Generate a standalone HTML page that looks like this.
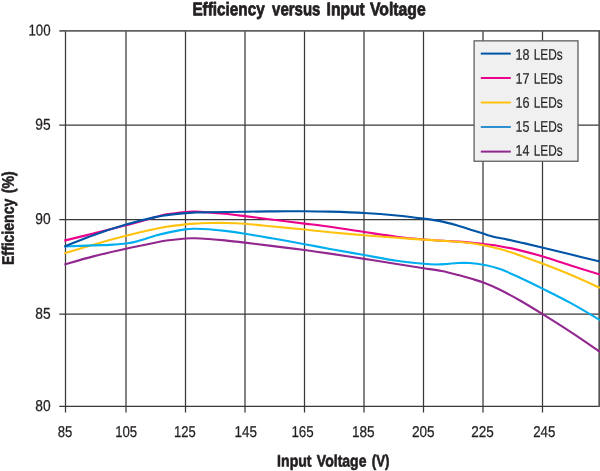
<!DOCTYPE html>
<html><head><meta charset="utf-8"><title>Efficiency versus Input Voltage</title>
<style>
html,body{margin:0;padding:0;background:#fff;}
svg{display:block;font-family:"Liberation Sans",sans-serif;}
text{text-rendering:geometricPrecision;}
</style></head>
<body>
<svg width="600" height="471" viewBox="0 0 600 471">
<rect x="0" y="0" width="600" height="471" fill="#ffffff"/>
<line x1="65.50" y1="30.9" x2="65.50" y2="412.60" stroke="#383838" stroke-width="1.25"/>
<line x1="126.00" y1="30.9" x2="126.00" y2="412.60" stroke="#383838" stroke-width="1.25"/>
<line x1="185.50" y1="30.9" x2="185.50" y2="412.60" stroke="#383838" stroke-width="1.25"/>
<line x1="245.00" y1="30.9" x2="245.00" y2="412.60" stroke="#383838" stroke-width="1.25"/>
<line x1="304.50" y1="30.9" x2="304.50" y2="412.60" stroke="#383838" stroke-width="1.25"/>
<line x1="364.00" y1="30.9" x2="364.00" y2="412.60" stroke="#383838" stroke-width="1.25"/>
<line x1="423.50" y1="30.9" x2="423.50" y2="412.60" stroke="#383838" stroke-width="1.25"/>
<line x1="483.00" y1="30.9" x2="483.00" y2="412.60" stroke="#383838" stroke-width="1.25"/>
<line x1="542.50" y1="30.9" x2="542.50" y2="412.60" stroke="#383838" stroke-width="1.25"/>
<line x1="59.30" y1="30.90" x2="599.70" y2="30.90" stroke="#606060" stroke-width="1.6"/>
<line x1="59.30" y1="125.10" x2="599.70" y2="125.10" stroke="#383838" stroke-width="1.25"/>
<line x1="59.30" y1="219.50" x2="599.70" y2="219.50" stroke="#383838" stroke-width="1.25"/>
<line x1="59.30" y1="314.20" x2="599.70" y2="314.20" stroke="#383838" stroke-width="1.25"/>
<line x1="59.30" y1="406.40" x2="599.70" y2="406.40" stroke="#383838" stroke-width="1.25"/>
<line x1="599.2" y1="30.299999999999997" x2="599.2" y2="406.9" stroke="#555555" stroke-width="1.7"/>
<clipPath id="c"><rect x="64.2" y="30.9" width="536.80" height="375.5"/></clipPath>
<g clip-path="url(#c)" fill="none" stroke-width="2.1" stroke-linecap="butt" stroke-linejoin="round">
<path d="M64.20,240.61 C69.05,239.44 83.00,236.12 93.30,233.57 C103.60,231.02 115.72,228.05 126.00,225.32 C136.28,222.60 148.22,219.06 155.00,217.23 C161.78,215.40 161.62,215.22 166.70,214.34 C171.78,213.46 180.78,212.41 185.50,211.96 C190.22,211.51 191.20,211.59 195.00,211.65 C198.80,211.72 203.30,211.99 208.30,212.34 C213.30,212.69 218.88,213.10 225.00,213.73 C231.12,214.36 236.95,215.12 245.00,216.12 C253.05,217.12 263.35,218.51 273.30,219.76 C283.25,221.00 295.25,222.42 304.70,223.59 C314.15,224.76 320.08,225.37 330.00,226.77 C339.92,228.17 353.08,230.32 364.20,231.98 C375.32,233.64 386.77,235.50 396.70,236.74 C406.63,237.99 414.37,238.68 423.80,239.44 C433.23,240.20 445.60,240.80 453.30,241.31 C461.00,241.81 464.98,242.01 470.00,242.47 C475.02,242.92 478.40,243.42 483.40,244.04 C488.40,244.66 493.90,245.14 500.00,246.19 C506.10,247.24 512.83,248.63 520.00,250.36 C527.17,252.09 534.67,254.08 543.00,256.55 C551.33,259.03 560.50,262.19 570.00,265.20 C579.50,268.21 595.00,273.03 600.00,274.60" stroke="#ec008c"/>
<path d="M64.20,253.49 C69.05,252.02 83.00,247.62 93.30,244.67 C103.60,241.72 115.72,238.40 126.00,235.79 C136.28,233.18 148.22,230.49 155.00,228.99 C161.78,227.48 161.62,227.53 166.70,226.76 C171.78,225.99 180.78,224.90 185.50,224.37 C190.22,223.84 191.20,223.80 195.00,223.58 C198.80,223.36 203.30,223.16 208.30,223.06 C213.30,222.95 218.88,222.81 225.00,222.94 C231.12,223.07 236.95,223.23 245.00,223.82 C253.05,224.41 263.35,225.51 273.30,226.47 C283.25,227.43 295.25,228.61 304.70,229.56 C314.15,230.52 320.08,231.25 330.00,232.20 C339.92,233.15 353.08,234.32 364.20,235.25 C375.32,236.17 386.77,237.03 396.70,237.77 C406.63,238.51 414.37,239.03 423.80,239.66 C433.23,240.29 445.60,241.00 453.30,241.55 C461.00,242.11 464.98,242.40 470.00,243.01 C475.02,243.62 478.40,244.20 483.40,245.20 C488.40,246.20 493.90,247.31 500.00,249.01 C506.10,250.71 512.83,252.95 520.00,255.41 C527.17,257.88 534.67,260.61 543.00,263.80 C551.33,266.99 560.50,270.55 570.00,274.54 C579.50,278.54 595.00,285.59 600.00,287.80" stroke="#ffc20e"/>
<path d="M64.20,246.55 C69.05,246.36 85.67,245.67 93.30,245.38 C100.93,245.09 104.55,245.15 110.00,244.83 C115.45,244.51 121.83,243.94 126.00,243.44 C130.17,242.95 132.12,242.51 135.00,241.86 C137.88,241.20 139.97,240.53 143.30,239.50 C146.63,238.46 151.10,236.75 155.00,235.64 C158.90,234.53 161.62,233.90 166.70,232.85 C171.78,231.81 180.78,230.06 185.50,229.37 C190.22,228.69 191.20,228.77 195.00,228.75 C198.80,228.73 203.30,228.88 208.30,229.24 C213.30,229.60 218.88,230.16 225.00,230.90 C231.12,231.65 236.95,232.45 245.00,233.73 C253.05,235.01 263.35,236.85 273.30,238.59 C283.25,240.33 295.25,242.46 304.70,244.18 C314.15,245.90 320.08,247.11 330.00,248.92 C339.92,250.73 353.08,253.09 364.20,255.06 C375.32,257.03 386.77,259.27 396.70,260.73 C406.63,262.18 417.25,263.18 423.80,263.80 C430.35,264.43 432.13,264.46 436.00,264.48 C439.87,264.50 443.33,264.17 447.00,263.93 C450.67,263.68 454.17,263.13 458.00,262.99 C461.83,262.84 465.77,262.75 470.00,263.06 C474.23,263.36 478.40,263.82 483.40,264.82 C488.40,265.83 493.90,266.95 500.00,269.10 C506.10,271.25 512.83,274.41 520.00,277.70 C527.17,280.99 534.67,284.68 543.00,288.85 C551.33,293.01 560.50,297.49 570.00,302.70 C579.50,307.91 595.00,317.20 600.00,320.10" stroke="#00aeef"/>
<path d="M64.20,264.46 C69.05,263.11 83.00,258.99 93.30,256.36 C103.60,253.74 115.72,251.00 126.00,248.72 C136.28,246.44 148.22,244.06 155.00,242.70 C161.78,241.33 161.62,241.22 166.70,240.51 C171.78,239.81 180.78,238.85 185.50,238.48 C190.22,238.12 191.20,238.22 195.00,238.32 C198.80,238.41 203.30,238.69 208.30,239.04 C213.30,239.39 218.88,239.80 225.00,240.40 C231.12,241.00 236.95,241.68 245.00,242.63 C253.05,243.58 263.35,244.86 273.30,246.10 C283.25,247.34 295.25,248.82 304.70,250.08 C314.15,251.33 320.08,252.18 330.00,253.64 C339.92,255.10 353.08,257.12 364.20,258.84 C375.32,260.56 386.77,262.42 396.70,263.98 C406.63,265.53 416.30,266.99 423.80,268.17 C431.30,269.35 435.95,269.93 441.70,271.08 C447.45,272.23 453.30,273.78 458.30,275.07 C463.30,276.36 467.52,277.58 471.70,278.83 C475.88,280.08 478.68,280.75 483.40,282.58 C488.12,284.40 493.90,286.80 500.00,289.79 C506.10,292.78 512.83,296.42 520.00,300.52 C527.17,304.62 534.45,309.07 543.00,314.38 C551.55,319.68 561.80,326.11 571.30,332.35 C580.80,338.58 595.22,348.56 600.00,351.80" stroke="#92278f"/>
<path d="M64.20,246.61 C69.05,244.71 83.00,238.85 93.30,235.18 C103.60,231.52 115.72,227.61 126.00,224.60 C136.28,221.60 148.22,218.71 155.00,217.13 C161.78,215.55 161.62,215.79 166.70,215.12 C171.78,214.45 180.78,213.53 185.50,213.10 C190.22,212.68 191.20,212.70 195.00,212.56 C198.80,212.43 203.30,212.39 208.30,212.29 C213.30,212.20 218.88,212.11 225.00,212.01 C231.12,211.91 236.95,211.82 245.00,211.70 C253.05,211.59 263.35,211.42 273.30,211.33 C283.25,211.25 295.25,211.15 304.70,211.21 C314.15,211.27 320.08,211.37 330.00,211.67 C339.92,211.97 353.08,212.37 364.20,213.01 C375.32,213.65 386.77,214.56 396.70,215.50 C406.63,216.44 416.58,217.71 423.80,218.64 C431.02,219.58 434.52,220.00 440.00,221.10 C445.48,222.20 451.15,223.71 456.70,225.27 C462.25,226.83 468.87,229.07 473.30,230.45 C477.73,231.84 480.52,232.68 483.30,233.57 C486.08,234.46 487.77,235.14 490.00,235.80 C492.23,236.45 493.92,236.90 496.70,237.50 C499.48,238.10 502.27,238.48 506.70,239.40 C511.13,240.32 517.25,241.66 523.30,243.04 C529.35,244.43 535.22,245.85 543.00,247.72 C550.78,249.59 560.50,251.98 570.00,254.28 C579.50,256.58 595.00,260.30 600.00,261.50" stroke="#0054a6"/>
</g>
<rect x="474.1" y="40.85" width="103.9" height="120.4" fill="#f0f0f0" stroke="#5f5f5f" stroke-width="1.3"/>
<line x1="480.8" y1="53.6" x2="510.8" y2="53.6" stroke="#0054a6" stroke-width="2"/>
<line x1="480.8" y1="78.0" x2="510.8" y2="78.0" stroke="#ec008c" stroke-width="2"/>
<line x1="480.8" y1="102.5" x2="510.8" y2="102.5" stroke="#ffc20e" stroke-width="2"/>
<line x1="480.8" y1="127.0" x2="510.8" y2="127.0" stroke="#2e8fd0" stroke-width="2"/>
<line x1="480.8" y1="151.6" x2="510.8" y2="151.6" stroke="#92278f" stroke-width="2"/>
<g style="will-change:opacity" opacity="0.999">
<text transform="translate(515.46,59.65) scale(0.8139,1) rotate(0.05)" font-size="15.43" font-weight="normal" fill="#231f20" stroke="#231f20" stroke-width="0.2" vector-effect="non-scaling-stroke" stroke-linejoin="round">18</text>
<text transform="translate(533.65,59.65) scale(0.7675,1) rotate(0.05)" font-size="15.43" font-weight="normal" fill="#231f20" stroke="#231f20" stroke-width="0.2" vector-effect="non-scaling-stroke" stroke-linejoin="round">LEDs</text>
<text transform="translate(515.45,83.65) scale(0.8222,1) rotate(0.05)" font-size="15.43" font-weight="normal" fill="#231f20" stroke="#231f20" stroke-width="0.2" vector-effect="non-scaling-stroke" stroke-linejoin="round">17</text>
<text transform="translate(533.65,83.65) scale(0.7675,1) rotate(0.05)" font-size="15.43" font-weight="normal" fill="#231f20" stroke="#231f20" stroke-width="0.2" vector-effect="non-scaling-stroke" stroke-linejoin="round">LEDs</text>
<text transform="translate(515.45,107.65) scale(0.8180,1) rotate(0.05)" font-size="15.43" font-weight="normal" fill="#231f20" stroke="#231f20" stroke-width="0.2" vector-effect="non-scaling-stroke" stroke-linejoin="round">16</text>
<text transform="translate(533.65,107.65) scale(0.7675,1) rotate(0.05)" font-size="15.43" font-weight="normal" fill="#231f20" stroke="#231f20" stroke-width="0.2" vector-effect="non-scaling-stroke" stroke-linejoin="round">LEDs</text>
<text transform="translate(515.46,131.65) scale(0.8139,1) rotate(0.05)" font-size="15.43" font-weight="normal" fill="#231f20" stroke="#231f20" stroke-width="0.2" vector-effect="non-scaling-stroke" stroke-linejoin="round">15</text>
<text transform="translate(533.65,131.65) scale(0.7675,1) rotate(0.05)" font-size="15.43" font-weight="normal" fill="#231f20" stroke="#231f20" stroke-width="0.2" vector-effect="non-scaling-stroke" stroke-linejoin="round">LEDs</text>
<text transform="translate(515.47,155.65) scale(0.8058,1) rotate(0.05)" font-size="15.43" font-weight="normal" fill="#231f20" stroke="#231f20" stroke-width="0.2" vector-effect="non-scaling-stroke" stroke-linejoin="round">14</text>
<text transform="translate(533.65,155.65) scale(0.7675,1) rotate(0.05)" font-size="15.43" font-weight="normal" fill="#231f20" stroke="#231f20" stroke-width="0.2" vector-effect="non-scaling-stroke" stroke-linejoin="round">LEDs</text>
<text transform="translate(192.38,15.22) scale(0.8349,1) rotate(0.05)" font-size="18.33" font-weight="bold" fill="#231f20" stroke="#231f20" stroke-width="0.75" vector-effect="non-scaling-stroke" stroke-linejoin="round">Efficiency</text>
<text transform="translate(272.10,15.22) scale(0.8173,1) rotate(0.05)" font-size="18.33" font-weight="bold" fill="#231f20" stroke="#231f20" stroke-width="0.75" vector-effect="non-scaling-stroke" stroke-linejoin="round">versus</text>
<text transform="translate(326.56,15.22) scale(0.8522,1) rotate(0.05)" font-size="18.33" font-weight="bold" fill="#231f20" stroke="#231f20" stroke-width="0.75" vector-effect="non-scaling-stroke" stroke-linejoin="round">Input</text>
<text transform="translate(370.02,15.22) scale(0.8588,1) rotate(0.05)" font-size="18.33" font-weight="bold" fill="#231f20" stroke="#231f20" stroke-width="0.75" vector-effect="non-scaling-stroke" stroke-linejoin="round">Voltage</text>
<text transform="translate(277.08,466.40) scale(0.8548,1) rotate(0.05)" font-size="16.52" font-weight="bold" fill="#231f20" stroke="#231f20" stroke-width="0.6" vector-effect="non-scaling-stroke" stroke-linejoin="round">Input</text>
<text transform="translate(316.86,466.40) scale(0.8489,1) rotate(0.05)" font-size="16.52" font-weight="bold" fill="#231f20" stroke="#231f20" stroke-width="0.6" vector-effect="non-scaling-stroke" stroke-linejoin="round">Voltage</text>
<text transform="translate(371.73,466.40) scale(0.8087,1) rotate(0.05)" font-size="16.52" font-weight="bold" fill="#231f20" stroke="#231f20" stroke-width="0.6" vector-effect="non-scaling-stroke" stroke-linejoin="round">(V)</text>
<text transform="translate(13.70,265.01) rotate(-90) scale(0.8417,1) rotate(0.05)" font-size="16.67" font-weight="bold" fill="#231f20" stroke="#231f20" stroke-width="0.6" vector-effect="non-scaling-stroke" stroke-linejoin="round">Efficiency</text>
<text transform="translate(13.70,193.21) rotate(-90) scale(0.8495,1) rotate(0.05)" font-size="16.67" font-weight="bold" fill="#231f20" stroke="#231f20" stroke-width="0.6" vector-effect="non-scaling-stroke" stroke-linejoin="round">(%)</text>
<text transform="translate(28.43,35.42) scale(0.8483,1) rotate(0.05)" font-size="15.70" font-weight="normal" fill="#231f20" stroke="#231f20" stroke-width="0.25" vector-effect="non-scaling-stroke" stroke-linejoin="round">100</text>
<text transform="translate(35.30,129.62) scale(0.8791,1) rotate(0.05)" font-size="15.70" font-weight="normal" fill="#231f20" stroke="#231f20" stroke-width="0.25" vector-effect="non-scaling-stroke" stroke-linejoin="round">95</text>
<text transform="translate(35.30,224.02) scale(0.8791,1) rotate(0.05)" font-size="15.70" font-weight="normal" fill="#231f20" stroke="#231f20" stroke-width="0.25" vector-effect="non-scaling-stroke" stroke-linejoin="round">90</text>
<text transform="translate(35.30,318.72) scale(0.8791,1) rotate(0.05)" font-size="15.70" font-weight="normal" fill="#231f20" stroke="#231f20" stroke-width="0.25" vector-effect="non-scaling-stroke" stroke-linejoin="round">85</text>
<text transform="translate(35.30,410.92) scale(0.8791,1) rotate(0.05)" font-size="15.70" font-weight="normal" fill="#231f20" stroke="#231f20" stroke-width="0.25" vector-effect="non-scaling-stroke" stroke-linejoin="round">80</text>
<text transform="translate(57.83,437.02) scale(0.8356,1) rotate(0.05)" font-size="15.70" font-weight="normal" fill="#231f20" stroke="#231f20" stroke-width="0.25" vector-effect="non-scaling-stroke" stroke-linejoin="round">85</text>
<text transform="translate(115.14,437.02) scale(0.8401,1) rotate(0.05)" font-size="15.70" font-weight="normal" fill="#231f20" stroke="#231f20" stroke-width="0.25" vector-effect="non-scaling-stroke" stroke-linejoin="round">105</text>
<text transform="translate(173.95,437.02) scale(0.8278,1) rotate(0.05)" font-size="15.70" font-weight="normal" fill="#231f20" stroke="#231f20" stroke-width="0.25" vector-effect="non-scaling-stroke" stroke-linejoin="round">125</text>
<text transform="translate(234.52,437.02) scale(0.8566,1) rotate(0.05)" font-size="15.70" font-weight="normal" fill="#231f20" stroke="#231f20" stroke-width="0.25" vector-effect="non-scaling-stroke" stroke-linejoin="round">145</text>
<text transform="translate(291.42,437.02) scale(0.8525,1) rotate(0.05)" font-size="15.70" font-weight="normal" fill="#231f20" stroke="#231f20" stroke-width="0.25" vector-effect="non-scaling-stroke" stroke-linejoin="round">165</text>
<text transform="translate(352.01,437.02) scale(0.8648,1) rotate(0.05)" font-size="15.70" font-weight="normal" fill="#231f20" stroke="#231f20" stroke-width="0.25" vector-effect="non-scaling-stroke" stroke-linejoin="round">185</text>
<text transform="translate(411.94,437.02) scale(0.8672,1) rotate(0.05)" font-size="15.70" font-weight="normal" fill="#231f20" stroke="#231f20" stroke-width="0.25" vector-effect="non-scaling-stroke" stroke-linejoin="round">205</text>
<text transform="translate(471.15,437.02) scale(0.8591,1) rotate(0.05)" font-size="15.70" font-weight="normal" fill="#231f20" stroke="#231f20" stroke-width="0.25" vector-effect="non-scaling-stroke" stroke-linejoin="round">225</text>
<text transform="translate(533.21,437.02) scale(0.8490,1) rotate(0.05)" font-size="15.70" font-weight="normal" fill="#231f20" stroke="#231f20" stroke-width="0.25" vector-effect="non-scaling-stroke" stroke-linejoin="round">245</text>
</g>
</svg>
</body></html>
